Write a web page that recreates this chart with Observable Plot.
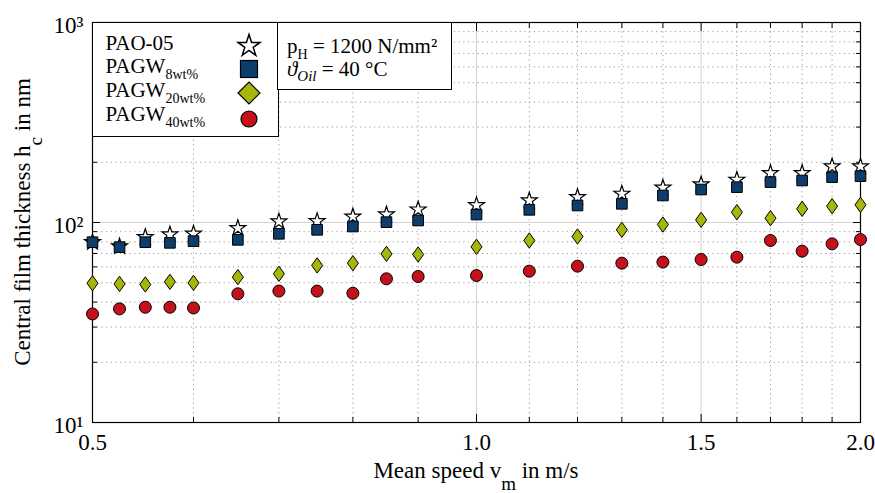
<!DOCTYPE html>
<html><head><meta charset="utf-8">
<script src="https://cdn.jsdelivr.net/npm/d3@7"></script>
<script src="https://cdn.jsdelivr.net/npm/@observablehq/plot@0.6"></script>
<style>
body{margin:0;background:#fff;font-family:"Liberation Serif",serif;}
#wrap{position:relative;width:875px;height:493px;}
svg text{font-family:"Liberation Serif",serif;}
.box{position:absolute;background:#fff;border:1.5px solid #000;box-sizing:border-box;}
.row{position:absolute;font-size:21px;line-height:1;white-space:nowrap;color:#000;}
.row sub{font-size:14px;vertical-align:baseline;position:relative;top:6px;}
.row .sub2{font-size:15px;position:relative;top:5px;font-style:italic;}
.sym{position:absolute;overflow:visible;}
</style></head><body><div id="wrap"></div>
<script>
// ---- data ----
const speed = [0.5, 0.525, 0.55, 0.575, 0.6, 0.65, 0.7, 0.75, 0.8, 0.85, 0.9, 1.0, 1.1, 1.2, 1.3, 1.4, 1.5, 1.6, 1.7, 1.8, 1.9, 2.0];
const pao05  = [79.7, 75.9, 84.5, 87.1, 87.8, 93.7, 101.2, 101.5, 107, 109.6, 116, 122, 128.8, 133.9, 139.1, 149.1, 154.9, 163.4, 176.5, 176.5, 190.5, 190.5];
const pagw8  = [79.7, 75.3, 79.7, 79.1, 80.7, 81.9, 87.8, 91.9, 95.5, 100.4, 102.3, 109.6, 115.7, 121.6, 124, 136.5, 146.2, 150.2, 159.2, 162.2, 168.5, 170.5];
const pagw20 = [49.7, 49.3, 49.0, 50.5, 49.9, 53.3, 55.4, 61.0, 62.6, 69.7, 69.2, 75.6, 81.3, 85.1, 91.9, 97.7, 103.1, 112.6, 105.1, 117, 120.7, 122.6];
const pagw40 = [34.9, 37.0, 37.7, 37.7, 37.4, 44.0, 45.4, 45.4, 44.3, 52.3, 53.7, 54.3, 57.1, 60.5, 62.6, 63.4, 65.3, 67.1, 81.3, 71.9, 78.2, 82.2];
const seriesNames = ["PAO-05", "PAGW 8wt%", "PAGW 20wt%", "PAGW 40wt%"];
const xTicks = [0.5, 1.0, 1.5, 2.0];
const xTickLabels = ["0.5", "1.0", "1.5", "2.0"];
const xMinor = [0.6, 0.7, 0.8, 0.9, 1.1, 1.2, 1.3, 1.4, 1.6, 1.7, 1.8, 1.9];
const yTicks = [10, 100, 1000];
const yTickLabels = ["10¹", "10²", "10³"];
const yMinor = [20, 30, 40, 50, 60, 70, 80, 90, 200, 300, 400, 500, 600, 700, 800, 900];

const W = 875, H = 493, mL = 92, mR = 15, mT = 22, mB = 71;
const navy = "#0c3d6c", olive = "#a6b60a", red = "#c4111b";
const serif = "Liberation Serif, serif";

const diamondSym = {draw(ctx, size) {
  const s = Math.sqrt(size), h = s * 0.72, w = s * 0.52;
  ctx.moveTo(0, -h); ctx.lineTo(w, 0); ctx.lineTo(0, h); ctx.lineTo(-w, 0); ctx.closePath();
}};

const mk = (vals) => speed.map((v, i) => ({x: v, y: vals[i]}));

const fmtX = d => xTickLabels[xTicks.indexOf(d)];
const fmtY = d => yTickLabels[yTicks.indexOf(d)];

const plot = Plot.plot({
  width: W, height: H,
  marginLeft: mL, marginRight: mR, marginTop: mT, marginBottom: mB,
  style: {fontFamily: serif, fontSize: "23px", color: "#000", background: "#fff"},
  x: {type: "log", domain: [0.5, 2.0]},
  y: {type: "log", domain: [10, 1000]},
  marks: [
    Plot.gridX(xMinor, {stroke: "#9a9a9a", strokeOpacity: 1, strokeDasharray: "1.2,3.5"}),
    Plot.gridY(yMinor, {stroke: "#9a9a9a", strokeOpacity: 1, strokeDasharray: "1.2,3.5"}),
    Plot.gridX([1.0, 1.5], {stroke: "#d2d2d2", strokeOpacity: 1}),
    Plot.gridY([100], {stroke: "#d2d2d2", strokeOpacity: 1}),
    Plot.frame({stroke: "#000", strokeWidth: 1.2}),
    // inward ticks
    Plot.axisX({anchor: "bottom", ticks: xMinor, tickSize: -5, tickFormat: () => "", label: null}),
    Plot.axisX({anchor: "top", ticks: xMinor, tickSize: -5, tickFormat: () => "", label: null}),
    Plot.axisY({anchor: "left", ticks: yMinor, tickSize: -5, tickFormat: () => "", label: null}),
    Plot.axisY({anchor: "right", ticks: yMinor, tickSize: -5, tickFormat: () => "", label: null}),
    Plot.axisY({anchor: "left", ticks: [100], tickSize: -8, tickFormat: () => "", label: null}),
    Plot.axisY({anchor: "right", ticks: [100], tickSize: -8, tickFormat: () => "", label: null}),
    Plot.axisX({anchor: "bottom", ticks: [1.0, 1.5], tickSize: -8, tickFormat: () => "", label: null}),
    Plot.axisX({anchor: "top", ticks: [1.0, 1.5], tickSize: -8, tickFormat: () => "", label: null}),
    // labels
    Plot.axisX({anchor: "bottom", ticks: xTicks, tickSize: 0, tickPadding: 11, tickFormat: fmtX, label: null, fontSize: 23, fontFamily: serif}),
    Plot.axisY({anchor: "left", ticks: yTicks, tickSize: 0, tickPadding: 9, dy: 3, tickFormat: fmtY, label: null, fontSize: 23, fontFamily: serif}),
    // data
    Plot.dot(mk(pao05), {x: "x", y: "y", symbol: "star", r: 5, fill: "#fff", stroke: "#000", strokeWidth: 1.2}),
    Plot.dot(mk(pagw8), {x: "x", y: "y", symbol: "square", r: 6, fill: navy, stroke: "#000", strokeWidth: 1}),
    Plot.dot(mk(pagw20), {x: "x", y: "y", symbol: diamondSym, r: 6, fill: olive, stroke: "#000", strokeWidth: 1}),
    Plot.dot(mk(pagw40), {x: "x", y: "y", symbol: "circle", r: 6, fill: red, stroke: "#000", strokeWidth: 1})
  ]
});

const wrap = document.getElementById("wrap");
wrap.appendChild(plot);

// axis titles with subscripts
const svg = d3.select(plot);
const xt = svg.append("text").attr("x", (mL + W - mR) / 2).attr("y", 478)
  .attr("text-anchor", "middle").attr("font-size", 23).attr("font-family", serif).attr("fill", "#000");
xt.append("tspan").text("Mean speed v");
xt.append("tspan").attr("dy", 12).attr("font-size", 19).text("m");
xt.append("tspan").attr("dy", -12).text(" in m/s");

const yt = svg.append("text").attr("transform", `translate(30,${(mT + H - mB) / 2}) rotate(-90)`)
  .attr("text-anchor", "middle").attr("font-size", 23).attr("font-family", serif).attr("fill", "#000");
yt.append("tspan").text("Central film thickness h");
yt.append("tspan").attr("dy", 12).attr("font-size", 19).text("c");
yt.append("tspan").attr("dy", -12).text(" in nm");

// legend boxes
function box(left, top, w, h) {
  const d = document.createElement("div");
  d.className = "box";
  Object.assign(d.style, {left: left + "px", top: top + "px", width: w + "px", height: h + "px"});
  wrap.appendChild(d);
  return d;
}
const lb = box(mL - 0.5, mT - 0.5, 187, 115);
const rows = [
  `PAO-05`,
  `PAGW<sub>8wt%</sub>`,
  `PAGW<sub>20wt%</sub>`,
  `PAGW<sub>40wt%</sub>`
];
const symSvgs = [
  `<svg class="sym" width="24" height="24" viewBox="-12 -12 24 24"><path d="${d3.symbol(d3.symbolStar, 150)()}" fill="#fff" stroke="#000" stroke-width="1.5"/></svg>`,
  `<svg class="sym" width="24" height="24" viewBox="-12 -12 24 24"><rect x="-8.5" y="-8.5" width="17" height="17" fill="${navy}" stroke="#000" stroke-width="1.2"/></svg>`,
  `<svg class="sym" width="24" height="24" viewBox="-12 -12 24 24"><path d="M0,-11L11,0L0,11L-11,0Z" fill="${olive}" stroke="#000" stroke-width="1.2"/></svg>`,
  `<svg class="sym" width="24" height="24" viewBox="-12 -12 24 24"><circle r="8" fill="${red}" stroke="#000" stroke-width="1.2"/></svg>`
];
const rowTops = [10, 33, 57, 81];
const symCenters = [23, 46, 70, 96];
rows.forEach((r, i) => {
  const d = document.createElement("div");
  d.className = "row";
  d.style.left = "13px"; d.style.top = rowTops[i] + "px";
  d.innerHTML = r;
  lb.appendChild(d);
  const s = document.createElement("div");
  s.innerHTML = symSvgs[i];
  const el = s.firstChild;
  el.style.left = (156 - 12) + "px";
  el.style.top = (symCenters[i] - 12) + "px";
  lb.appendChild(el);
});
const rb = box(277, mT - 0.5, 175, 68);
const r1 = document.createElement("div");
r1.className = "row"; r1.style.left = "9px"; r1.style.top = "13px";
r1.innerHTML = `p<sub>H</sub> = 1200 N/mm²`;
rb.appendChild(r1);
const r2 = document.createElement("div");
r2.className = "row"; r2.style.left = "9px"; r2.style.top = "36px";
r2.innerHTML = `<i>ϑ</i><span class="sub2">Oil</span> = 40 °C`;
rb.appendChild(r2);
</script></body></html>
